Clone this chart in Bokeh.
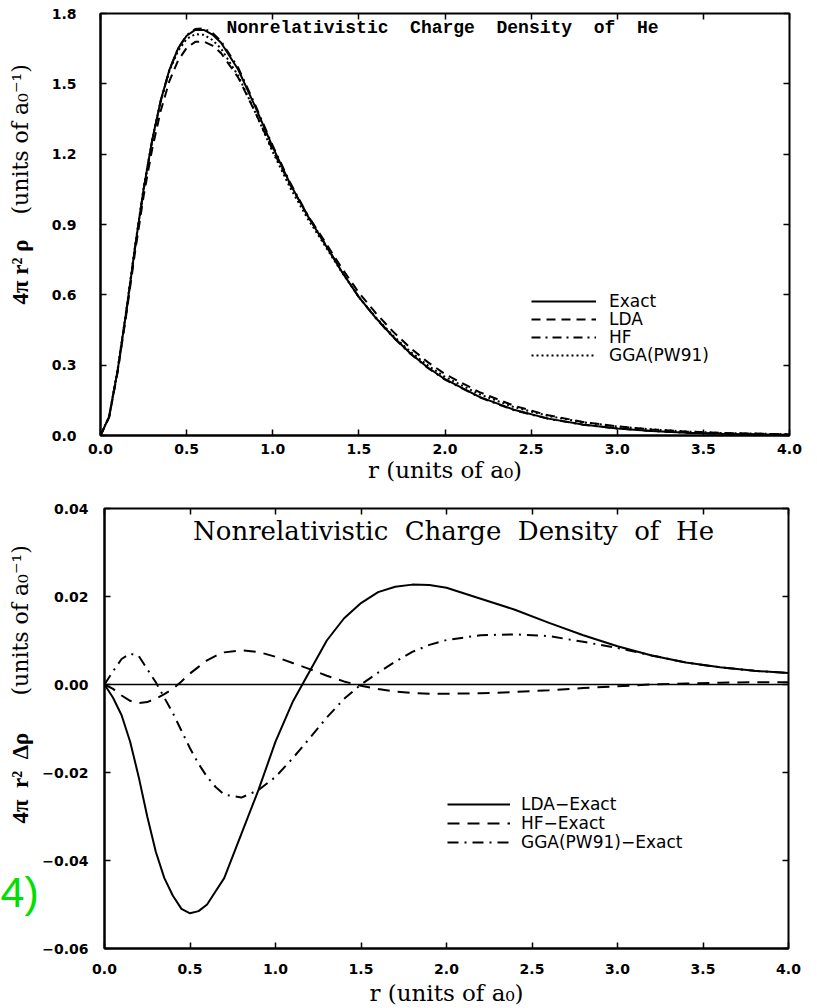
from bokeh.plotting import figure
from bokeh.layouts import column, row
from bokeh.models import (Label, Legend, LegendItem, LinearAxis, FixedTicker, Span,
                          PrintfTickFormatter, CustomLabelingPolicy)
from bokeh.embed import file_html
from bokeh.resources import INLINE

# ---------------- data ----------------
r = [0.0, 0.05, 0.1, 0.15, 0.2, 0.25, 0.3, 0.35, 0.4, 0.45, 0.5, 0.55, 0.6, 0.65, 0.7,
     0.8, 0.9, 1.0, 1.1, 1.2, 1.3, 1.4, 1.5, 1.6, 1.7, 1.8, 1.9, 2.0, 2.2, 2.4, 2.6,
     2.8, 3.0, 3.2, 3.4, 3.6, 3.8, 4.0]

exact = [0.0, 0.08, 0.28, 0.53, 0.80, 1.05, 1.26, 1.43, 1.56, 1.65, 1.705, 1.73, 1.73, 1.71, 1.675,
         1.56, 1.40, 1.23, 1.075, 0.94, 0.82, 0.70, 0.59, 0.50, 0.42, 0.35, 0.29, 0.24, 0.165, 0.11, 0.072,
         0.047, 0.030, 0.019, 0.012, 0.0075, 0.0045, 0.0028]
lda = [0.0, 0.077, 0.273, 0.517, 0.779, 1.02, 1.222, 1.386, 1.512, 1.599, 1.653, 1.679, 1.68, 1.663, 1.631,
       1.526, 1.376, 1.217, 1.071, 0.943, 0.83, 0.715, 0.609, 0.521, 0.442, 0.373, 0.313, 0.262, 0.185, 0.127, 0.086,
       0.058, 0.039, 0.026, 0.017, 0.011, 0.008, 0.005]
hf = [0.0, 0.079, 0.278, 0.526, 0.796, 1.046, 1.257, 1.428, 1.559, 1.651, 1.708, 1.734, 1.736, 1.717, 1.682,
      1.568, 1.407, 1.236, 1.08, 0.944, 0.822, 0.701, 0.59, 0.499, 0.418, 0.348, 0.288, 0.238, 0.163, 0.108, 0.071,
      0.046, 0.030, 0.019, 0.012, 0.008, 0.005, 0.003]
gga = [0.0, 0.083, 0.286, 0.537, 0.807, 1.054, 1.261, 1.427, 1.554, 1.64, 1.691, 1.712, 1.709, 1.687, 1.65,
       1.534, 1.376, 1.209, 1.058, 0.928, 0.813, 0.697, 0.59, 0.503, 0.425, 0.357, 0.299, 0.25, 0.176, 0.121, 0.083,
       0.057, 0.038, 0.026, 0.017, 0.011, 0.008, 0.005]

lda_minus_exact = [0.0, -0.003, -0.007, -0.013, -0.021, -0.030, -0.038, -0.044, -0.048, -0.051, -0.052, -0.0515,
                   -0.050, -0.047, -0.044, -0.034, -0.024, -0.013, -0.004, 0.003, 0.010, 0.015, 0.0185, 0.021,
                   0.0222, 0.0227, 0.0226, 0.022, 0.0195, 0.017, 0.014, 0.0112, 0.0087, 0.0066, 0.005, 0.0039,
                   0.0031, 0.0026]
hf_minus_exact = [0.0, -0.001, -0.0025, -0.0037, -0.0042, -0.004, -0.0032, -0.0022, -0.001, 0.0007, 0.0025, 0.004,
                  0.0055, 0.0065, 0.0073, 0.0078, 0.0074, 0.0063, 0.0049, 0.0035, 0.002, 0.0007, -0.0003, -0.001,
                  -0.0016, -0.0019, -0.0021, -0.0021, -0.002, -0.0017, -0.0013, -0.0008, -0.0004, 0.0, 0.0002,
                  0.0004, 0.0005, 0.0005]
gga_minus_exact = [0.0, 0.003, 0.0058, 0.007, 0.0065, 0.0035, 0.0005, -0.003, -0.0065, -0.0105, -0.0145, -0.018,
                   -0.021, -0.0233, -0.025, -0.0257, -0.024, -0.021, -0.0168, -0.0122, -0.0075, -0.0033, 0.0,
                   0.0027, 0.0052, 0.0074, 0.009, 0.0101, 0.0112, 0.0114, 0.011, 0.0097, 0.0083, 0.0066, 0.005,
                   0.0039, 0.0031, 0.0026]

x_ticks = [0.0, 0.5, 1.0, 1.5, 2.0, 2.5, 3.0, 3.5, 4.0]
y1_ticks = [0.0, 0.3, 0.6, 0.9, 1.2, 1.5, 1.8]
y2_ticks = [-0.06, -0.04, -0.02, 0.0, 0.02, 0.04]
y2_labels = ["\u22120.06", "\u22120.04", "\u22120.02", "0.00", "0.02", "0.04"]

NB = "\u00a0 "  # wide word gap that survives SVG whitespace collapsing
title_top = NB.join(["Nonrelativistic", "Charge", "Density", "of", "He"])
title_bottom = NB.join(["Nonrelativistic", "Charge", "Density", "of", "He"])
top_names = ["Exact", "LDA", "HF", "GGA(PW91)"]
bottom_names = ["LDA\u2212Exact", "HF\u2212Exact", "GGA(PW91)\u2212Exact"]
x_label = "r (units of a\u2080)"
units_label = "(units of a\u2080\u207b\u00b9)"
top_ylabel = "4\u03c0 r\u00b2 \u03c1"
bottom_ylabel = NB.join(["4\u03c0", "r\u00b2", "\u0394\u03c1"])
panel_tag = "4)"

TICK_FONT = "DejaVu Sans"
HIDE_LABELS = CustomLabelingPolicy(code="for (const i of indices) { indices.unset(i) } return indices")


def inner_axis(ticks):
    return LinearAxis(ticker=FixedTicker(ticks=ticks), major_label_text_font_size="1px",
                      major_label_policy=HIDE_LABELS,
                      major_label_standoff=0, major_tick_in=6, major_tick_out=0,
                      minor_tick_line_color=None, axis_line_color=None, major_tick_line_width=1.5)


def style(p, yticks, ylabels=None, xstand=8, lab_stand=2, ystand=20):
    p.xgrid.visible = False
    p.ygrid.visible = False
    p.outline_line_color = "black"
    p.outline_line_width = 2
    p.background_fill_color = "white"
    p.border_fill_color = "white"
    xa = p.below[0]
    ya = p.left[0]
    xa.ticker = FixedTicker(ticks=x_ticks)
    xa.formatter = PrintfTickFormatter(format="%.1f")
    xa.major_label_standoff = xstand
    xa.axis_label = x_label
    xa.axis_label_text_font = "DejaVu Serif"
    xa.axis_label_text_font_style = "normal"
    xa.axis_label_text_font_size = "23px"
    xa.axis_label_text_color = "black"
    xa.axis_label_standoff = lab_stand
    ya.ticker = FixedTicker(ticks=yticks)
    ya.major_label_standoff = ystand
    if ylabels is not None:
        ya.major_label_overrides = {t: l for t, l in zip(yticks, ylabels)}
    else:
        ya.formatter = PrintfTickFormatter(format="%.1f")
    for ax in (xa, ya):
        ax.major_tick_in = 6
        ax.major_tick_out = 0
        ax.minor_tick_line_color = None
        ax.axis_line_width = 2
        ax.major_tick_line_width = 1.5
        ax.major_label_text_font = TICK_FONT
        ax.major_label_text_font_style = "bold"
        ax.major_label_text_font_size = "14px"
        ax.major_label_text_color = "black"
    p.add_layout(inner_axis(x_ticks), "above")
    p.add_layout(inner_axis(yticks), "right")


def label_fig(w, h):
    f = figure(width=w, height=h, x_range=(0, 1), y_range=(0, 1),
               x_axis_location=None, y_axis_location=None, min_border=0,
               outline_line_color=None, toolbar_location=None, output_backend="svg")
    f.xgrid.visible = False
    f.ygrid.visible = False
    return f


def vlabel(y, text, font, style_, size):
    return Label(x=20, y=y, x_units="screen", y_units="screen", text=text, angle=90, angle_units="deg",
                 text_align="left", text_baseline="middle", text_font=font, text_font_style=style_,
                 text_font_size=size, text_color="black")


def add_legend(p, names, renderers, x, ys, glyph_w, stand, size):
    # one legend per row so that the rows sit exactly where the reference has them
    for name, rr, y in zip(names, renderers, ys):
        p.add_layout(Legend(items=[LegendItem(label=name, renderers=[rr])],
                            location=(x, y), border_line_color=None, background_fill_alpha=0,
                            padding=0, margin=0, spacing=0, glyph_width=glyph_w, glyph_height=16,
                            label_height=16, label_standoff=stand, label_text_font="DejaVu Sans",
                            label_text_font_size=size, label_text_color="black"))


# ---------------- top panel (frame: x 100..789, y 13..436) ----------------
p1 = figure(width=782, height=485, x_range=(0, 4), y_range=(0, 1.8),
            output_backend="svg", toolbar_location=None,
            min_border_left=65, min_border_right=28, min_border_top=13, min_border_bottom=49)
style(p1, y1_ticks, xstand=8, lab_stand=0, ystand=24)

l_exact = p1.line(r, exact, line_color="black", line_width=2)
l_lda = p1.line(r, lda, line_color="black", line_width=2, line_dash="9 6")
l_hf = p1.line(r, hf, line_color="black", line_width=2, line_dash="9 5 2 5")
l_gga = p1.line(r, gga, line_color="black", line_width=2, line_dash="2 3")

add_legend(p1, top_names, [l_exact, l_lda, l_hf, l_gga], 431, [124, 106, 88, 70], 65, 13, "17px")

p1.add_layout(Label(x=342, y=408, x_units="screen", y_units="screen", text=title_top,
                    text_align="center", text_baseline="middle", text_font="Liberation Mono",
                    text_font_style="bold", text_font_size="18px", text_color="black"))

# label strip, its frame is aligned with p1's frame (bottom at page y 436)
lab1 = label_fig(35, 485)
lab1.add_layout(vlabel(131, top_ylabel, "Liberation Serif", "bold", "23px"))
lab1.add_layout(vlabel(221, units_label, "DejaVu Serif", "normal", "22px"))

# ---------------- bottom panel (frame: x 104..788, y 508..948) ----------------
p2 = figure(width=778, height=523, x_range=(0, 4), y_range=(-0.06, 0.04),
            output_backend="svg", toolbar_location=None,
            min_border_left=65, min_border_right=29, min_border_top=23, min_border_bottom=60)
style(p2, y2_ticks, ylabels=y2_labels, xstand=15, lab_stand=3, ystand=16)

p2.add_layout(Span(location=0, dimension="width", line_color="black", line_width=1.5))
b_lda = p2.line(r, lda_minus_exact, line_color="black", line_width=2)
b_hf = p2.line(r, hf_minus_exact, line_color="black", line_width=2, line_dash="12 8")
b_gga = p2.line(r, gga_minus_exact, line_color="black", line_width=2, line_dash="11 6 2 6")

add_legend(p2, bottom_names, [b_lda, b_hf, b_gga], 343, [134, 115, 96], 63, 11, "17px")

p2.add_layout(Label(x=349, y=418, x_units="screen", y_units="screen", text=title_bottom,
                    text_align="center", text_baseline="middle", text_font="DejaVu Serif",
                    text_font_size="26px", text_color="black"))

# label strip, its frame is aligned with p2's frame (bottom at page y 948)
lab2 = label_fig(39, 523)
lab2.add_layout(vlabel(125, bottom_ylabel, "Liberation Serif", "bold", "23px"))
lab2.add_layout(vlabel(253, units_label, "DejaVu Serif", "normal", "22px"))
lab2.add_layout(Label(x=0, y=57, x_units="screen", y_units="screen", text=panel_tag,
                      text_align="left", text_baseline="alphabetic", text_font="Liberation Sans",
                      text_font_size="43px", text_color="#00e000"))

layout = column(row(lab1, p1, spacing=0), row(lab2, p2, spacing=0), spacing=0)
open("out.html", "w").write(file_html(layout, INLINE))
